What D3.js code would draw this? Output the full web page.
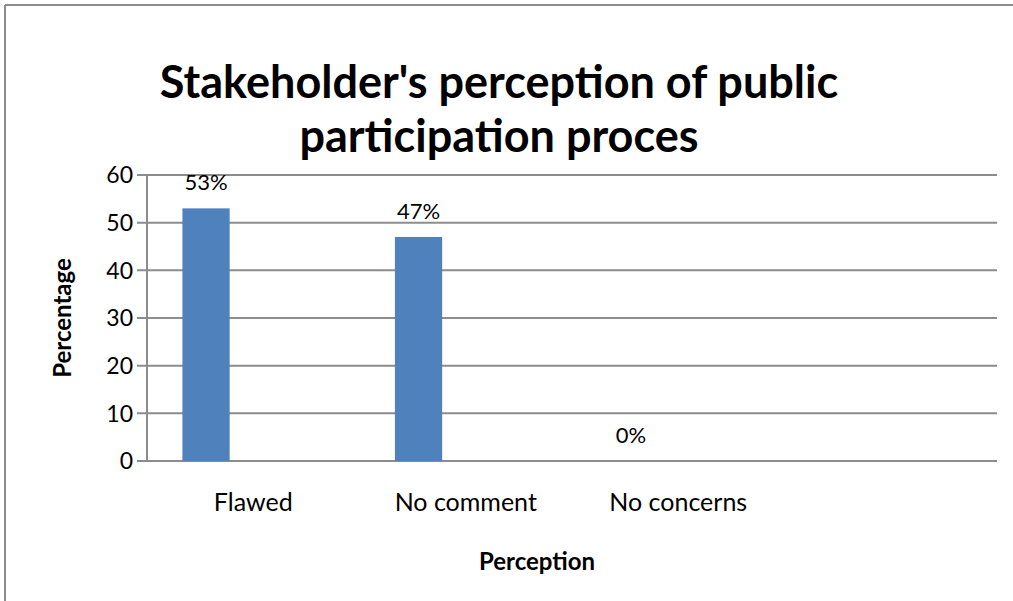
<!DOCTYPE html>
<html>
<head>
<meta charset="utf-8">
<script src="https://cdn.jsdelivr.net/npm/d3@7"></script>
<style>
  html, body { margin: 0; padding: 0; background: #fff; }
  svg { display: block; }
  text { font-family: Lato, "Open Sans", sans-serif; fill: #000; }
</style>
</head>
<body>
<svg id="chart" width="1013" height="601"></svg>
<script>
const titleLines = ["Stakeholder's perception of public", "participation proces"];
const categories = ["Flawed", "No comment", "No concerns", ""];
const values = [53, 47, 0, null];
const valueLabels = ["53%", "47%", "0%", ""];
const yTicks = [0, 10, 20, 30, 40, 50, 60];
const yTitle = "Percentage";
const xTitle = "Perception";
const seriesSlots = ["Percentage", "s2", "s3"];

const svg = d3.select("#chart");
const W = 1013, H = 601;
const m = { left: 147, right: 16, top: 175, bottom: 140 };
const innerW = W - m.left - m.right;
const innerH = H - m.top - m.bottom;

// outer frame (only top and left edges visible)
svg.append("line").attr("x1", 5).attr("x2", W).attr("y1", 5).attr("y2", 5)
  .attr("stroke", "#8c8c8c").attr("stroke-width", 2);
svg.append("line").attr("x1", 5).attr("x2", 5).attr("y1", 5).attr("y2", H)
  .attr("stroke", "#8c8c8c").attr("stroke-width", 2);

const x = d3.scaleBand().domain(categories.map((c, i) => i)).range([m.left, m.left + innerW]).padding(0);
const xs = d3.scaleBand().domain(seriesSlots).range([0, x.bandwidth()]).paddingInner(0).paddingOuter(0.75);
const y = d3.scaleLinear().domain([0, 60]).range([m.top + innerH, m.top]);

const g = svg.append("g");

// gridlines
g.selectAll("line.grid").data(yTicks).join("line")
  .attr("x1", m.left - 10).attr("x2", m.left + innerW)
  .attr("y1", d => y(d)).attr("y2", d => y(d))
  .attr("stroke", "#8c8c8c").attr("stroke-width", 2);

// y axis line
g.append("line").attr("x1", m.left).attr("x2", m.left)
  .attr("y1", y(60)).attr("y2", y(0)).attr("stroke", "#8c8c8c").attr("stroke-width", 2);

// y tick labels
g.selectAll("text.ytick").data(yTicks).join("text")
  .attr("x", m.left - 14).attr("y", d => y(d))
  .attr("dy", "0.36em").attr("text-anchor", "end")
  .attr("font-size", 23).text(d => d);

// bars
const barData = values.map((v, i) => ({ i, v })).filter(d => d.v !== null);
g.selectAll("rect.bar").data(barData).join("rect")
  .attr("x", d => x(d.i) + xs("Percentage"))
  .attr("width", xs.bandwidth())
  .attr("y", d => y(d.v))
  .attr("height", d => y(0) - y(d.v))
  .attr("fill", "#4F81BD");

// value labels
g.selectAll("text.vl").data(barData).join("text")
  .attr("x", d => x(d.i) + xs("Percentage") + xs.bandwidth() / 2)
  .attr("y", d => y(d.v) - 18)
  .attr("text-anchor", "middle").attr("font-size", 22)
  .text(d => valueLabels[d.i]);

// category labels
g.selectAll("text.cat").data(categories).join("text")
  .attr("x", (d, i) => x(i) + x.bandwidth() / 2)
  .attr("y", 511)
  .attr("text-anchor", "middle").attr("font-size", 25)
  .text(d => d);

// axis titles
svg.append("text").attr("x", 537).attr("y", 570).attr("text-anchor", "middle")
  .attr("font-size", 24).attr("font-weight", "bold").text(xTitle);
svg.append("text").attr("transform", `translate(71,318) rotate(-90)`)
  .attr("text-anchor", "middle").attr("font-size", 24).attr("font-weight", "bold").text(yTitle);

// title
svg.append("g").selectAll("text").data(titleLines).join("text")
  .attr("x", 499).attr("y", (d, i) => 98 + i * 54)
  .attr("text-anchor", "middle").attr("font-size", 45).attr("font-weight", "bold")
  .text(d => d);
</script>
</body>
</html>
